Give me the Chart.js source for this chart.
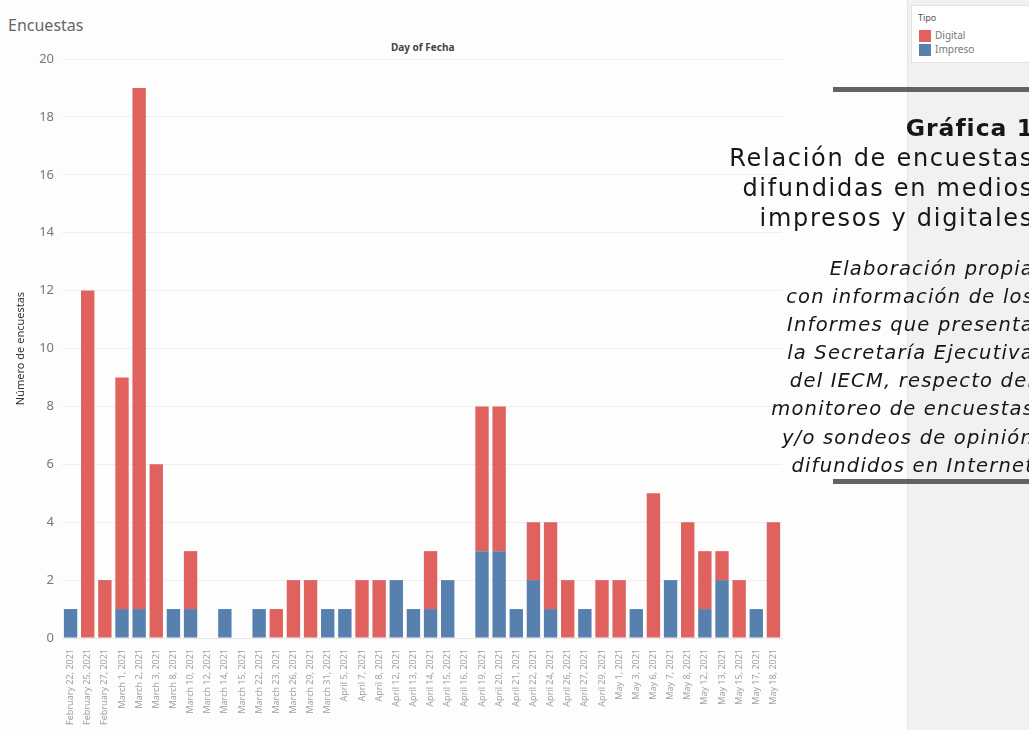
<!DOCTYPE html>
<html>
<head>
<meta charset="utf-8">
<script src="https://cdn.jsdelivr.net/npm/chart.js@4"></script>
<style>
  html, body { margin: 0; padding: 0; }
  body { width: 1029px; height: 730px; overflow: hidden; position: relative; background: #fdfdfd; font-family: "Noto Sans", sans-serif; }
  #wrap { position: absolute; left: 0; top: 0; width: 790px; height: 730px; }
  #heading { position: absolute; left: 8px; top: 14px; font-size: 16px; color: #666; }
  #dayof { position: absolute; left: 391px; top: 40px; font-size: 10px; font-weight: bold; color: #444; }
  #panel { position: absolute; left: 907px; top: 0; width: 122px; height: 730px; background: #f1f1f1; border-left: 1px solid #e4e4e4; }
  #legend { position: absolute; left: 911px; top: 5px; width: 125px; height: 56px; background: #fff; border: 1px solid #e2e2e2; font-size: 10px; color: #777; }
  #legend .ttl { position: absolute; left: 6px; top: 5px; font-size: 9px; color: #555; }
  #legend .item { position: absolute; left: 7px; height: 13px; line-height: 13px; }
  #legend .sw { display: inline-block; width: 12px; height: 12px; vertical-align: middle; margin-right: 4px; }
  .rule { position: absolute; left: 833px; width: 200px; height: 5px; background: #636363; }
  #titles { position: absolute; right: -5px; top: 113px; text-align: right; color: #161616; font-family: "DejaVu Sans", sans-serif; }
  #titles .g { font-size: 23.5px; font-weight: bold; line-height: 30px; letter-spacing: 1px; }
  #titles .t { font-size: 24px; line-height: 30px; letter-spacing: 1.7px; }
  #titles .s { font-size: 19.5px; font-style: italic; line-height: 28.1px; margin-top: 22px; letter-spacing: 1.2px; }
</style>
</head>
<body>
<div id="panel"></div>
<div id="heading">Encuestas</div>
<div id="dayof">Day of Fecha</div>
<div id="wrap"><canvas id="chart"></canvas></div>
<div id="legend"><div class="ttl">Tipo</div></div>
<div class="rule" style="top:87px"></div>
<div class="rule" style="top:479px"></div>
<div id="titles">
  <div class="g">Gráfica 1</div>
  <div class="t">Relación de encuestas<br>difundidas en medios<br>impresos y digitales</div>
  <div class="s">Elaboración propia<br>con información de los<br>Informes que presenta<br>la Secretaría Ejecutiva<br>del IECM, respecto del<br>monitoreo de encuestas<br>y/o sondeos de opinión<br>difundidos en Internet</div>
</div>
<script>
const fechas = [
  "February 22, 2021", "February 25, 2021", "February 27, 2021", "March 1, 2021", "March 2, 2021",
  "March 3, 2021", "March 8, 2021", "March 10, 2021", "March 12, 2021", "March 14, 2021",
  "March 15, 2021", "March 22, 2021", "March 23, 2021", "March 26, 2021", "March 29, 2021",
  "March 31, 2021", "April 5, 2021", "April 7, 2021", "April 8, 2021", "April 12, 2021",
  "April 13, 2021", "April 14, 2021", "April 15, 2021", "April 16, 2021", "April 19, 2021",
  "April 20, 2021", "April 21, 2021", "April 22, 2021", "April 24, 2021", "April 26, 2021",
  "April 27, 2021", "April 29, 2021", "May 1, 2021", "May 3, 2021", "May 6, 2021",
  "May 7, 2021", "May 8, 2021", "May 12, 2021", "May 13, 2021", "May 15, 2021",
  "May 17, 2021", "May 18, 2021"
];
const impreso = [1, 0, 0, 1, 1, 0, 1, 1, 0, 1, 0, 1, 0, 0, 0, 1, 1, 0, 0, 2, 1, 1, 2, 0, 3, 3, 1, 2, 1, 0, 1, 0, 0, 1, 0, 2, 0, 1, 2, 0, 1, 0];
const digital = [0, 12, 2, 8, 18, 6, 0, 2, 0, 0, 0, 0, 1, 2, 2, 0, 0, 2, 2, 0, 0, 2, 0, 0, 5, 5, 0, 2, 3, 2, 0, 2, 2, 0, 5, 0, 4, 2, 1, 2, 0, 4];
const yTicks = [0, 2, 4, 6, 8, 10, 12, 14, 16, 18, 20];

const colors = { Digital: "#e0625f", Impreso: "#5880ae" };

// legend built from the series names
const legendEl = document.getElementById("legend");
["Digital", "Impreso"].forEach((name, i) => {
  const item = document.createElement("div");
  item.className = "item";
  item.style.top = (23 + i * 14) + "px";
  item.innerHTML = `<span class="sw" style="background:${colors[name]}"></span>${name}`;
  legendEl.appendChild(item);
});

const ctx = document.getElementById("chart").getContext("2d");
new Chart(ctx, {
  type: "bar",
  data: {
    labels: fechas,
    datasets: [
      { label: "Impreso", data: impreso, backgroundColor: colors.Impreso, barPercentage: 0.78, categoryPercentage: 1 },
      { label: "Digital", data: digital, backgroundColor: colors.Digital, barPercentage: 0.78, categoryPercentage: 1 }
    ]
  },
  options: {
    responsive: true,
    maintainAspectRatio: false,
    animation: false,
    layout: { padding: { top: 59, right: 8, left: 0, bottom: 0 } },
    plugins: { legend: { display: false }, tooltip: { enabled: false } },
    scales: {
      x: {
        stacked: true,
        grid: { display: false },
        border: { color: "#e6e6e6" },
        ticks: {
          autoSkip: false, minRotation: 90, maxRotation: 90,
          color: "#a0a0a0", font: { family: "Noto Sans", size: 9 }, padding: 3
        },
        afterFit: (axis) => { axis.height = 92; }
      },
      y: {
        stacked: true,
        min: 0, max: 20,
        afterBuildTicks: (axis) => { axis.ticks = yTicks.map(v => ({ value: v })); },
        grid: { color: "#efefef", drawTicks: false },
        border: { display: false },
        ticks: { color: "#777", font: { family: "Noto Sans", size: 13 }, padding: 8 },
        title: { display: true, text: "Número de encuestas", color: "#333", font: { family: "Noto Sans", size: 11 }, padding: { top: 14, bottom: 0 } },
        afterFit: (axis) => { axis.width = 62; }
      }
    }
  }
});
</script>
</body>
</html>
